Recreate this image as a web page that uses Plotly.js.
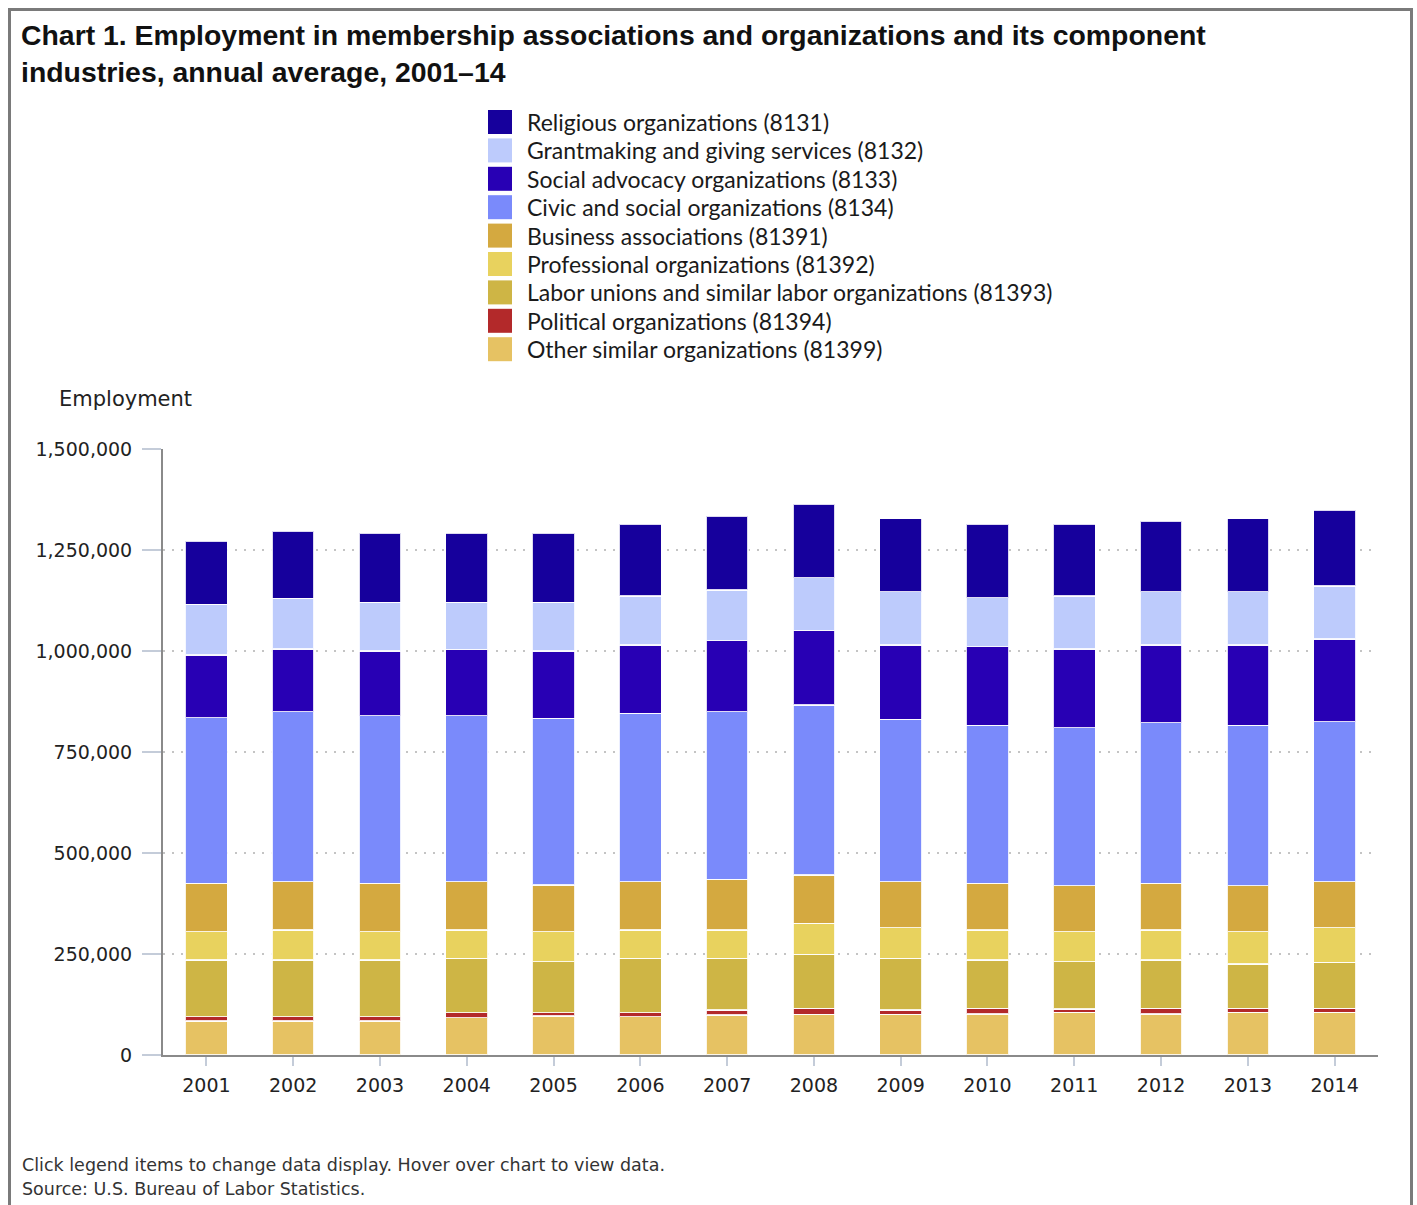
<!DOCTYPE html>
<html>
<head>
<meta charset="utf-8">
<script src="https://cdn.plot.ly/plotly-3.0.1.min.js"></script>
<style>
  html, body { margin:0; padding:0; background:#fff; }
  #chart { width:1417px; height:1205px; }
  #frame { position:absolute; left:8px; top:8px; width:1399px; height:1210px; border:3px solid #7a7a7a; border-bottom:none; pointer-events:none; }
</style>
</head>
<body>
<div id="chart"></div>
<div id="frame"></div>
<script>
// ---- data (bottom of stack first) ----
const years = ['2001','2002','2003','2004','2005','2006','2007','2008','2009','2010','2011','2012','2013','2014'];

const other        = [84150, 84150, 84150, 92400, 96500, 94800, 99000, 100700, 100700, 101500, 105600, 101500, 105600, 105600];
const political    = [10650, 10650, 10650, 12400, 8300, 10000, 12400, 14800, 10700, 14000, 8200, 14000, 9900, 9900];
const labor        = [140300, 140300, 140300, 134500, 126200, 134500, 127900, 133700, 127900, 119600, 117200, 119600, 109700, 113900];
const professional = [70100, 74300, 70100, 70100, 74200, 70100, 70100, 76700, 75800, 74300, 74200, 74300, 80000, 85700];
const business     = [119800, 119600, 119800, 119600, 115500, 119600, 125400, 119600, 113900, 115600, 113800, 115600, 113800, 113900];
const civic        = [409900, 420700, 414800, 410800, 412500, 416600, 414900, 420800, 401800, 390900, 391100, 397500, 396900, 396000];
const social       = [155100, 155200, 160100, 164300, 166600, 169200, 175800, 184800, 184000, 194700, 194800, 192300, 198900, 204600];
const grantmaking  = [125500, 125400, 120500, 116300, 120500, 121200, 125400, 130400, 131900, 121300, 131100, 131900, 131900, 131200];
const religious    = [157400, 167300, 172300, 172300, 172300, 177400, 182300, 181500, 180700, 181500, 177400, 175700, 180700, 187300];

const seriesNames = [
  'Other similar organizations (81399)',
  'Political organizations (81394)',
  'Labor unions and similar labor organizations (81393)',
  'Professional organizations (81392)',
  'Business associations (81391)',
  'Civic and social organizations (8134)',
  'Social advocacy organizations (8133)',
  'Grantmaking and giving services (8132)',
  'Religious organizations (8131)'
];
const seriesValues = [other, political, labor, professional, business, civic, social, grantmaking, religious];
const seriesColors = ['#E6C263','#B3292A','#CEB545','#E8D25E','#D4A940','#7A8AFB','#2800B4','#BDCBFC','#16009C'];

// ---- layout geometry ----
const FW = 1417, FH = 1205;
const L = 163, R = 39, T = 449, B = 150;
const PW = FW - L - R, PH = FH - T - B;
const px2x = p => (p - L) / PW;
const py2y = p => (FH - B - p) / PH;

const traces = seriesValues.map((vals, i) => ({
  type: 'bar',
  name: seriesNames[i],
  x: years,
  y: vals,
  marker: { color: seriesColors[i], line: { color: 'rgba(255,255,255,0.85)', width: 1.5 } },
  showlegend: false,
  hovertemplate: '%{x}<br>' + seriesNames[i] + ': %{y:,d}<extra></extra>'
}));

// custom legend (top entry = last series)
const shapes = [];
const annotations = [];
const legendTop = 122, legendStep = 28.4;
for (let k = 0; k < seriesNames.length; k++) {
  const i = seriesNames.length - 1 - k;
  const cy = legendTop + k * legendStep;
  shapes.push({
    type: 'rect', xref: 'paper', yref: 'paper',
    x0: px2x(488), x1: px2x(512), y0: py2y(cy + 12), y1: py2y(cy - 12),
    fillcolor: seriesColors[i], line: { width: 0 }
  });
  annotations.push({
    xref: 'paper', yref: 'paper', x: px2x(525), y: py2y(cy),
    xanchor: 'left', yanchor: 'middle', showarrow: false,
    text: seriesNames[i],
    font: { family: 'Lato, "Open Sans", sans-serif', size: 23, color: '#1a1a1a' }
  });
}
// y-axis title
annotations.push({
  xref: 'paper', yref: 'paper', x: px2x(57), y: py2y(399),
  xanchor: 'left', yanchor: 'middle', showarrow: false,
  text: 'Employment',
  font: { family: '"DejaVu Sans", Verdana, sans-serif', size: 21, color: '#222' }
});
// footer notes
annotations.push({
  xref: 'paper', yref: 'paper', x: px2x(20), y: py2y(1165),
  xanchor: 'left', yanchor: 'middle', showarrow: false,
  text: 'Click legend items to change data display. Hover over chart to view data.',
  font: { family: '"DejaVu Sans", Verdana, sans-serif', size: 17.5, color: '#333' }
});
annotations.push({
  xref: 'paper', yref: 'paper', x: px2x(20), y: py2y(1189),
  xanchor: 'left', yanchor: 'middle', showarrow: false,
  text: 'Source: U.S. Bureau of Labor Statistics.',
  font: { family: '"DejaVu Sans", Verdana, sans-serif', size: 17.5, color: '#333' }
});

const layout = {
  width: FW, height: FH,
  margin: { l: L, r: R, t: T, b: B, pad: 0 },
  paper_bgcolor: '#fff', plot_bgcolor: '#fff',
  barmode: 'stack',
  bargap: 0.515,
  showlegend: false,
  title: {
    text: '<b>Chart 1. Employment in membership associations and organizations and its component<br>industries, annual average, 2001–14</b>',
    xref: 'container', yref: 'container',
    x: 21 / FW, xanchor: 'left',
    y: 1 - 45 / FH, yanchor: 'top',
    font: { family: '"Liberation Sans", Arial, sans-serif', size: 28.4, color: '#111' }
  },
  xaxis: {
    type: 'category',
    showline: true, linecolor: '#8a8a8a', linewidth: 2,
    ticks: 'outside', ticklen: 9, tickcolor: '#c4ccd9', tickwidth: 1.5,
    ticklabelstandoff: 3,
    showgrid: false, zeroline: false,
    tickfont: { family: '"DejaVu Sans", Verdana, sans-serif', size: 19, color: '#222' }
  },
  yaxis: {
    range: [0, 1500000], dtick: 250000, tick0: 0,
    tickformat: ',d',
    showline: true, linecolor: '#8a8a8a', linewidth: 2,
    ticks: 'outside', ticklen: 19, tickcolor: '#c4ccd9', tickwidth: 1.5,
    ticklabelstandoff: 6,
    showgrid: true, gridcolor: '#c4c4c4', gridwidth: 2, griddash: '2px,7px',
    zeroline: false,
    tickfont: { family: '"DejaVu Sans", Verdana, sans-serif', size: 19, color: '#222' }
  },
  shapes: shapes,
  annotations: annotations,
  hoverlabel: { font: { family: '"DejaVu Sans", sans-serif' } }
};

Plotly.newPlot('chart', traces, layout, { displayModeBar: false, responsive: false });
</script>
</body>
</html>
